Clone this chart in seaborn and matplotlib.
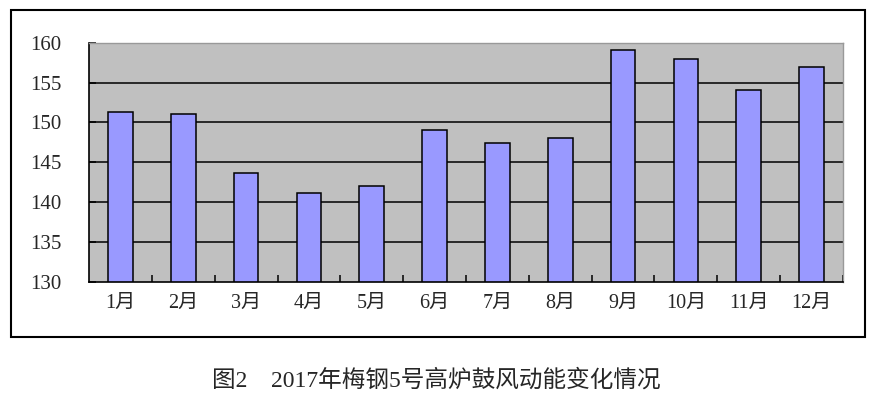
import numpy as np
import pandas as pd
import matplotlib
matplotlib.use('Agg')
import matplotlib.pyplot as plt
import seaborn as sns
from matplotlib.patches import Rectangle

# 월별 데이터
months = ['1月', '2月', '3月', '4月', '5月', '6月', '7月', '8月', '9月', '10月', '11月', '12月']
values = [151.3, 151.1, 143.7, 141.1, 142.0, 149.0, 147.4, 148.0, 159.1, 158.0, 154.0, 156.9]
yticks = [130, 135, 140, 145, 150, 155, 160]
title = '图2\u30002017年梅钢5号高炉鼓风动能变化情况'

sns.set_style('white')
plt.rcParams['font.family'] = ['Liberation Serif', 'Noto Sans CJK SC']

df = pd.DataFrame({'month': months, 'value': values})

fig = plt.figure(figsize=(8.74, 3.99), dpi=100)
ax = fig.add_axes([89 / 874, 1 - 281.7 / 399, (843 - 89) / 874, (281.7 - 42.7) / 399])
ax.set_facecolor('#C0C0C0')

sns.barplot(data=df, x='month', y='value', color='#9999FF', saturation=1,
            width=0.39, edgecolor='black', linewidth=1.1, ax=ax, zorder=2)

for v in yticks[1:-1]:
    ax.axhline(v, color='black', lw=1.1, zorder=1)

ax.set_ylim(yticks[0], yticks[-1])
ax.set_xlim(-0.5, len(months) - 0.5)
ax.set_yticks(yticks)
ax.set_xlabel('')
ax.set_ylabel('')

# 카테고리 경계 눈금
ax.set_xticks(np.arange(len(months)) + 0.5, minor=True)
ax.tick_params(axis='x', which='major', length=0, pad=9, labelsize=14.5)
ax.tick_params(axis='x', which='minor', direction='in', length=5, width=1.1, color='black', bottom=True)
ax.tick_params(axis='y', which='major', direction='in', length=5, width=1.1, color='black', left=True, pad=20, labelsize=15)

for s in ['left', 'bottom']:
    ax.spines[s].set_color('black')
    ax.spines[s].set_linewidth(1.2)
for s in ['top', 'right']:
    ax.spines[s].set_color('#999999')
    ax.spines[s].set_linewidth(1)

# 바깥 테두리
fig.patches.append(Rectangle((11 / 874, 1 - 337 / 399), (865 - 11) / 874, (337 - 9.5) / 399,
                             transform=fig.transFigure, fill=False, edgecolor='black', lw=1.5))

fig.text(0.4995, 0.047, title, ha='center', va='center', fontsize=17, fontweight='medium')

fig.savefig('out.png', dpi=100)
